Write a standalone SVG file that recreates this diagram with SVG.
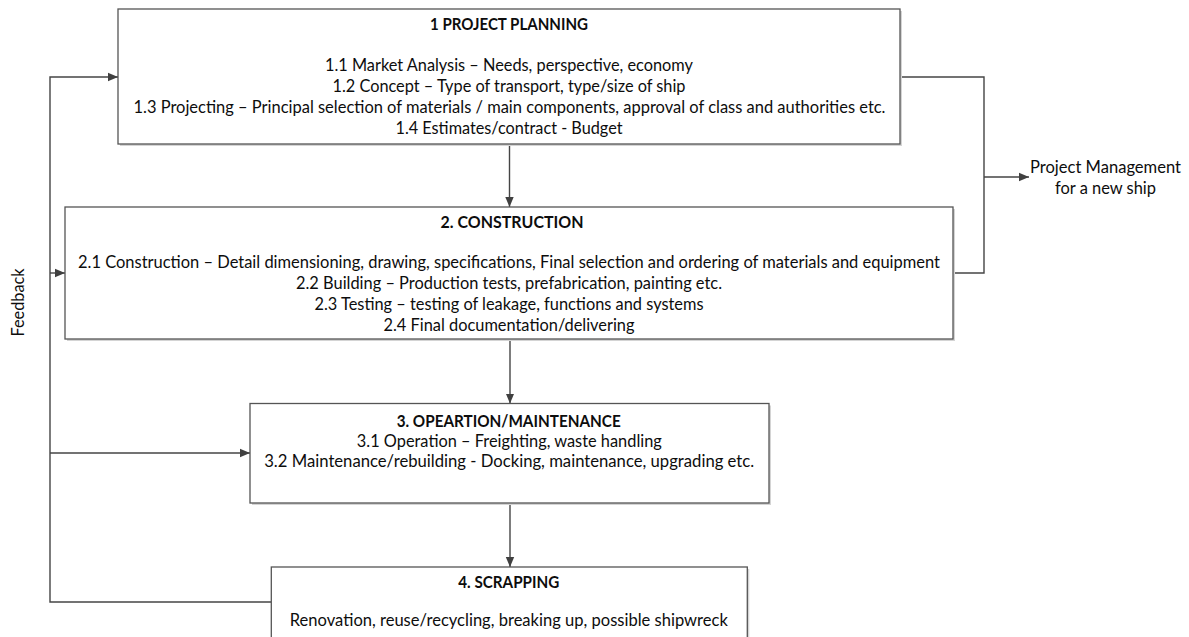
<svg xmlns="http://www.w3.org/2000/svg" width="1189" height="637" viewBox="0 0 1189 637">
  <defs>
    <marker id="arrow" viewBox="0 0 10 10" refX="10" refY="5" markerWidth="10" markerHeight="10" markerUnits="userSpaceOnUse" orient="auto">
      <path d="M0,0.8 L10,5 L0,9.2 Z" fill="#404040"/>
    </marker>
  </defs>
  <style>
    .shadow { fill: #d4d4d4; }
    .box { fill: #ffffff; stroke: #555555; stroke-width: 1.3; }
    .t { font-family: Lato, "Open Sans", "Liberation Sans", sans-serif; font-size: 17px; fill: #0d0d0d; text-anchor: middle; }
    .b { font-weight: bold; }
    .conn { fill: none; stroke: #454545; stroke-width: 1.4; }
  </style>
  <rect width="1189" height="637" fill="#ffffff"/>

  <!-- connectors -->
  <g id="connectors">
    <line class="conn" x1="509.5" y1="144" x2="509.5" y2="207" marker-end="url(#arrow)"/>
    <line class="conn" x1="510" y1="340" x2="510" y2="403.5" marker-end="url(#arrow)"/>
    <line class="conn" x1="510" y1="503" x2="510" y2="567" marker-end="url(#arrow)"/>
    <!-- feedback loop on the left -->
    <polyline class="conn" points="271,602 50,602 50,77 118,77" marker-end="url(#arrow)"/>
    <line class="conn" x1="50" y1="273" x2="65" y2="273" marker-end="url(#arrow)"/>
    <line class="conn" x1="50" y1="453" x2="250" y2="453" marker-end="url(#arrow)"/>
    <!-- project management bracket on the right -->
    <polyline class="conn" points="900,77 984,77 984,273 953,273"/>
    <line class="conn" x1="984" y1="177" x2="1029" y2="177" marker-end="url(#arrow)"/>
  </g>

  <g id="project-planning">
    <rect class="shadow" x="120" y="11" width="782" height="135"/>
    <rect class="box" x="118" y="9" width="782" height="135"/>
    <text class="t b" x="509" y="29.5" textLength="158" lengthAdjust="spacingAndGlyphs">1 PROJECT PLANNING</text>
    <text class="t" x="509" y="71" textLength="368" lengthAdjust="spacingAndGlyphs">1.1 Market Analysis – Needs, perspective, economy</text>
    <text class="t" x="509" y="92" textLength="353" lengthAdjust="spacingAndGlyphs">1.2 Concept – Type of transport, type/size of ship</text>
    <text class="t" x="509.5" y="113" textLength="752" lengthAdjust="spacingAndGlyphs">1.3 Projecting – Principal selection of materials / main components, approval of class and authorities etc.</text>
    <text class="t" x="509" y="134" textLength="227" lengthAdjust="spacingAndGlyphs">1.4 Estimates/contract - Budget</text>
  </g>

  <g id="construction">
    <rect class="shadow" x="67" y="209" width="888" height="132"/>
    <rect class="box" x="65" y="207" width="888" height="132"/>
    <text class="t b" x="512" y="227.5" textLength="143" lengthAdjust="spacingAndGlyphs">2. CONSTRUCTION</text>
    <text class="t" x="509" y="268" textLength="862" lengthAdjust="spacingAndGlyphs">2.1 Construction – Detail dimensioning, drawing, specifications, Final selection and ordering of materials and equipment</text>
    <text class="t" x="509" y="289" textLength="426" lengthAdjust="spacingAndGlyphs">2.2 Building – Production tests, prefabrication, painting etc.</text>
    <text class="t" x="509" y="310" textLength="389" lengthAdjust="spacingAndGlyphs">2.3 Testing – testing of leakage, functions and systems</text>
    <text class="t" x="509" y="331" textLength="251" lengthAdjust="spacingAndGlyphs">2.4 Final documentation/delivering</text>
  </g>

  <g id="operation-maintenance">
    <rect class="shadow" x="252" y="405.5" width="519" height="99.5"/>
    <rect class="box" x="250" y="403.5" width="519" height="99.5"/>
    <text class="t b" x="508.7" y="426.5" textLength="224" lengthAdjust="spacingAndGlyphs">3. OPEARTION/MAINTENANCE</text>
    <text class="t" x="509.3" y="447" textLength="305" lengthAdjust="spacingAndGlyphs">3.1 Operation – Freighting, waste handling</text>
    <text class="t" x="509.2" y="467" textLength="490" lengthAdjust="spacingAndGlyphs">3.2 Maintenance/rebuilding -  Docking, maintenance, upgrading etc.</text>
  </g>

  <g id="scrapping">
    <rect class="shadow" x="273.3" y="569" width="476" height="90"/>
    <rect class="box" x="271.3" y="567" width="476" height="90"/>
    <text class="t b" x="508.8" y="587.5" textLength="101" lengthAdjust="spacingAndGlyphs">4. SCRAPPING</text>
    <text class="t" x="508.8" y="626" textLength="438" lengthAdjust="spacingAndGlyphs">Renovation, reuse/recycling, breaking up, possible shipwreck</text>
  </g>

  <g id="feedback-label">
    <text class="t" transform="translate(24,302.5) rotate(-90)" x="0" y="0" textLength="68" lengthAdjust="spacingAndGlyphs">Feedback</text>
  </g>

  <g id="project-management-label">
    <text class="t" x="1105.5" y="172.5" textLength="151" lengthAdjust="spacingAndGlyphs">Project Management</text>
    <text class="t" x="1105.5" y="193.5" textLength="101" lengthAdjust="spacingAndGlyphs">for a new ship</text>
  </g>
</svg>
